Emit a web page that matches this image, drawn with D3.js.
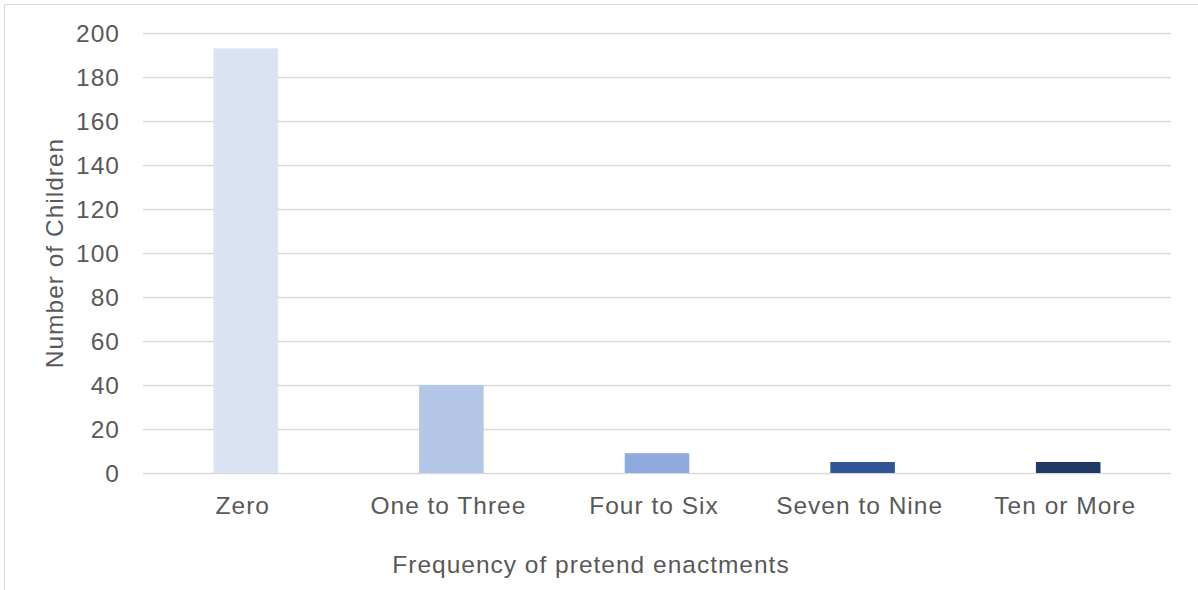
<!DOCTYPE html>
<html>
<head>
<meta charset="utf-8">
<script src="https://cdn.jsdelivr.net/npm/d3@7"></script>
<style>
  html, body { margin: 0; padding: 0; background: #fff; }
  svg { display: block; }
  text { font-family: "Liberation Sans", Arial, sans-serif; fill: #595959; }
</style>
</head>
<body>
<svg id="chart" width="1198" height="590"></svg>
<script>
// Number of children by frequency of pretend enactments
const categories = ["Zero", "One to Three", "Four to Six", "Seven to Nine", "Ten or More"];
const counts = [193, 40, 9, 5, 5];
const barColors = ["#DAE3F3", "#B4C7E7", "#8FAADC", "#2F5597", "#203864"];
const yTicks = [0, 20, 40, 60, 80, 100, 120, 140, 160, 180, 200];

const svg = d3.select("#chart");
const W = 1198, H = 590;
const plot = { left: 143, right: 1171, top: 33, bottom: 473 };
const fontSize = 24.5;
const spacing = "1px";

// chart frame
svg.append("path")
  .attr("d", `M4.5,${H} V4.5 H${W}`)
  .attr("fill", "none")
  .attr("stroke", "#D9D9D9")
  .attr("stroke-width", 1);

const x = d3.scaleBand()
  .domain(categories)
  .range([plot.left, plot.right])
  .paddingInner(0.686)
  .paddingOuter(0.343);

const y = d3.scaleLinear()
  .domain([0, 200])
  .range([plot.bottom, plot.top]);

// horizontal gridlines
svg.append("g")
  .selectAll("line")
  .data(yTicks)
  .join("line")
  .attr("x1", plot.left)
  .attr("x2", plot.right)
  .attr("y1", d => Math.round(y(d)) + 0.5)
  .attr("y2", d => Math.round(y(d)) + 0.5)
  .attr("stroke", "#D9D9D9")
  .attr("stroke-width", 1.5);

// bars
svg.append("g")
  .selectAll("rect")
  .data(categories)
  .join("rect")
  .attr("x", d => x(d))
  .attr("width", x.bandwidth())
  .attr("y", (d, i) => y(counts[i]))
  .attr("height", (d, i) => y(0) - y(counts[i]))
  .attr("fill", (d, i) => barColors[i]);

// y-axis tick labels
const yAxis = d3.axisLeft(y).tickValues(yTicks).tickSize(0).tickPadding(0);
const gy = svg.append("g")
  .attr("transform", `translate(120,0)`)
  .call(yAxis);
gy.select(".domain").remove();
gy.selectAll("text")
  .attr("font-size", fontSize)
  .attr("font-family", "Liberation Sans, Arial, sans-serif")
  .attr("letter-spacing", spacing)
  .attr("fill", "#595959")
  .attr("dy", "0.35em");

// x-axis category labels
const xAxis = d3.axisBottom(x).tickSize(0).tickPadding(0);
const gx = svg.append("g")
  .attr("transform", `translate(0,${plot.bottom})`)
  .call(xAxis);
gx.select(".domain").remove();
gx.selectAll("text")
  .attr("font-size", fontSize)
  .attr("font-family", "Liberation Sans, Arial, sans-serif")
  .attr("letter-spacing", spacing)
  .attr("fill", "#595959")
  .attr("x", -3)
  .attr("y", 41)
  .attr("dy", 0);

// axis titles
svg.append("text")
  .attr("x", 591)
  .attr("y", 573)
  .attr("text-anchor", "middle")
  .attr("font-size", fontSize)
  .attr("letter-spacing", spacing)
  .text("Frequency of pretend enactments");

svg.append("text")
  .attr("transform", `translate(63,${(plot.top + plot.bottom) / 2}) rotate(-90)`)
  .attr("text-anchor", "middle")
  .attr("font-size", fontSize)
  .attr("letter-spacing", spacing)
  .text("Number of Children");
</script>
</body>
</html>
